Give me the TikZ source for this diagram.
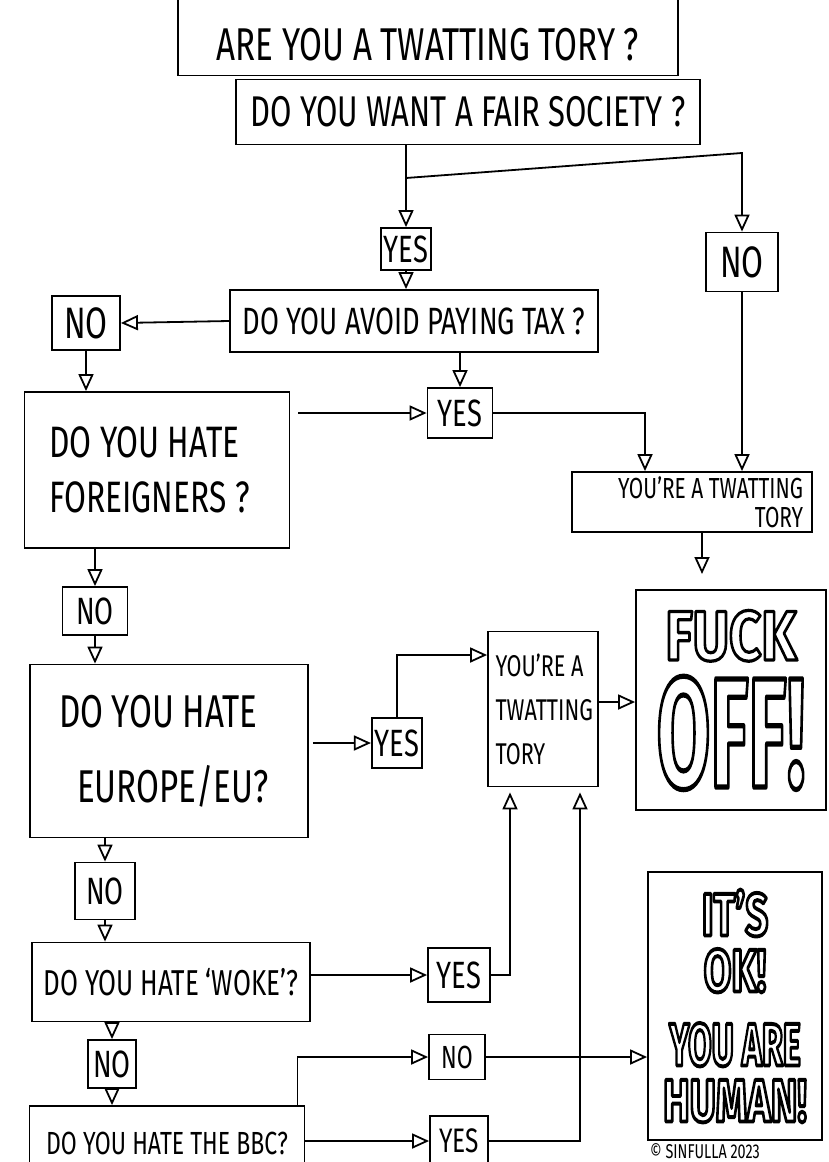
\documentclass[tikz,border=0pt]{standalone}
\usepackage{fontspec}
\usepackage{graphicx}
\usepackage{xcolor}
\usetikzlibrary{arrows.meta, positioning, calc}
\newfontfamily\handfont{Fira Sans}[FakeStretch=0.72]
\newfontfamily\blockfont{Fira Sans}

% hollow block letters: stroke only (pdf text render mode 1)
\newcommand\hollow[1]{%
  \special{pdf:literal direct q 1 Tr 2.6 w 1 j}#1\special{pdf:literal direct Q}}

\begin{document}
\begin{tikzpicture}[
    x=1pt, y=-1pt,
    >={Triangle[open, length=17pt, width=15pt]},
    line width=1.8pt,
    box/.style={draw, line width=1.8pt, inner sep=3pt},
    sz/.style 2 args={minimum width=#1pt, minimum height=#2pt},
    hand/.style={font=\handfont\fontsize{#1}{#1}\selectfont},
    tag/.style={box, hand=38},
    shout/.style={box, font=\blockfont\bfseries, align=center}
]
\useasboundingbox (0,0) rectangle (828,1162);

% === 标题 ===
\node[box, sz={500}{95}, hand=46, text height=64pt, text depth=0pt] (title) at (428,28) {ARE YOU A TWATTING TORY ?};
\node[box, sz={464}{65}, hand=43] (fair) at (468,112) {DO YOU WANT A FAIR SOCIETY ?};

% === 第一层 ===
\coordinate (split) at (406,178);
\coordinate (nobend) at (742,153);
\node[tag, sz={48}{42}] (yes1) at (406,249) {YES};
\node[box, sz={72}{59}, hand=44] (no1) at (742,262) {NO};
\node[box, sz={368}{62}, hand=38] (tax) at (414,321) {DO YOU AVOID PAYING TAX ?};
\node[box, sz={68}{54}, hand=44] (no2) at (86,323) {NO};
\node[tag, sz={65}{50}] (yes2) at (460,413) {YES};

% === 左列问题 ===
\node[box, sz={265}{156}, hand=44, text width=215pt, align=flush left] (foreign) at (157,470)
    {DO YOU HATE\\[11pt]FOREIGNERS ?};
\node[tag, sz={65}{48}] (no3) at (95,611) {NO};
\node[box, sz={278}{173}, hand=46, text width=220pt, align=flush left] (europe) at (169,751)
    {DO YOU HATE\\[29pt]\hspace*{18pt}EUROPE/EU?};
\node[tag, sz={47}{50}] (yes3) at (397,743) {YES};
\node[tag, sz={60}{57}] (no4) at (105,891) {NO};
\node[box, sz={278}{79}, hand=36] (woke) at (171,982) {DO YOU HATE ‘WOKE’?};
\node[tag, sz={62}{54}] (yes4) at (459,975) {YES};
\node[tag, sz={48}{48}] (no5) at (112,1064) {NO};
\node[box, sz={275}{74}, hand=32] (bbc) at (167,1143) {DO YOU HATE THE BBC?};
\node[tag, sz={56}{45}, hand=32] (no6) at (457,1057) {NO};
\node[tag, sz={58}{50}, hand=34] (yes5) at (459,1141) {YES};

% === 结论 ===
\node[box, sz={240}{60}, hand=29, text width=222pt, align=flush right] (tory1) at (692,502)
    {YOU’RE A TWATTING\\TORY};
\node[box, sz={110}{155}, hand=30, text width=95pt, align=flush left] (tory2) at (543,709)
    {YOU’RE A\\[14pt]TWATTING\\[14pt]TORY};
\node[shout, sz={190}{220}, font=\blockfont\bfseries\fontsize{56}{60}\selectfont] (fuck) at (731,700)
    {\scalebox{1}[1.25]{\hollow{FUCK}}\\[14pt]{\fontsize{78}{78}\selectfont\scalebox{1}[2.0]{\hollow{OFF!}}}};
\node[shout, sz={174}{268}, font=\blockfont\bfseries\fontsize{40}{56}\selectfont] (human) at (735,1006)
    {\scalebox{1}[1.5]{\hollow{IT’S}}\\\scalebox{1}[1.5]{\hollow{OK!}}\\[18pt]%
     \scalebox{0.85}[1.5]{\hollow{YOU ARE}}\\\scalebox{1}[1.5]{\hollow{HUMAN!}}};
\node[hand=20] (sign) at (705,1151) {© SINFULLA 2023};

% === 连线 ===
\draw (split |- fair.south) -- (split);
\draw[->] (split) -- (yes1.north);
\draw[->] (split) -- (nobend) -- (no1.north);
\draw[->] (yes1.south) -- (yes1.south |- tax.north);
\draw[->] (tax.west) -- (no2.east);
\draw[->] (no2.south) -- (no2.south |- foreign.north);
\draw[->] (tax.south -| yes2) -- (yes2.north);
\draw[->, shorten <=8pt] (foreign.east |- yes2) -- (yes2.west);
\draw[->] (yes2.east) -| ([xshift=-47pt]tory1.north);
\draw[->] (no1.south) -- (no1.south |- tory1.north);
\coordinate (offtip) at (702,574);
\draw[->] (offtip |- tory1.south) -- (offtip);

\draw[->] (foreign.south -| no3) -- (no3.north);
\draw[->] (no3.south) -- (no3.south |- europe.north);
\draw[->, shorten <=4pt] (europe.east |- yes3) -- (yes3.west);
\draw[->] (yes3.north) |- ([yshift=54pt]tory2.west);
\coordinate (t2out) at ([yshift=7pt]tory2.east);
\draw[->] (t2out) -- (t2out -| fuck.west);

\draw[->] (europe.south -| no4) -- (no4.north);
\draw[->] (no4.south) -- (no4.south |- woke.north);
\draw[->] (woke.east |- yes4) -- (yes4.west);
\draw[->, shorten >=5pt] (yes4.east) -| ([xshift=-33pt]tory2.south);
\draw[->] (woke.south -| no5) -- (no5.north);
\draw[->] (no5.south) -- (no5.south |- bbc.north);
\draw[->] ([xshift=-8pt]bbc.north east) |- (no6.west);
\draw[->] (no6.east) -- (no6.east -| human.west);
\draw[->] (bbc.east |- yes5) -- (yes5.west);
\draw[->, shorten >=5pt] (yes5.east) -| ([xshift=37pt]tory2.south);

\end{tikzpicture}
\end{document}
